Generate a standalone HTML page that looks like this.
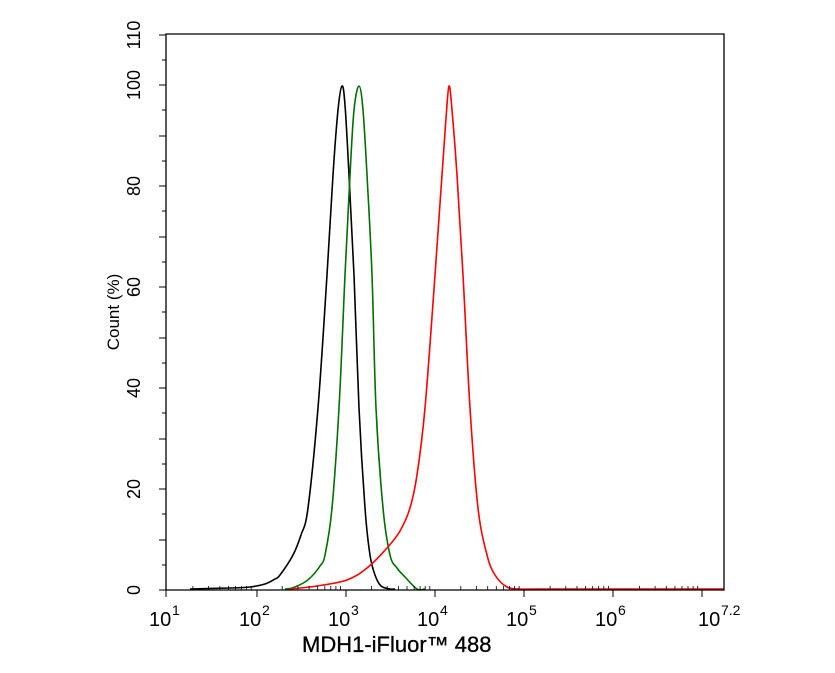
<!DOCTYPE html>
<html><head><meta charset="utf-8"><style>body{margin:0;background:#fff}</style></head><body>
<svg width="835" height="668" viewBox="0 0 835 668" xmlns="http://www.w3.org/2000/svg" font-family="Liberation Sans, Arial, sans-serif">
<rect width="835" height="668" fill="#fff"/>
<g fill="none" stroke-width="1.6" stroke-linejoin="round" id="curves"></g>
<g stroke="#000" stroke-width="1.3" fill="none">
<path d="M166,590 L166,34 L724,34 L724,590 Z"/>
</g>
<g stroke="#000" stroke-width="1">
<path d="M159,590H166M159,540H166M159,489H166M159,439H166M159,388H166M159,338H166M159,287H166M159,237H166M159,186H166M159,136H166M159,85H166M159,35H166"/>
<path d="M162,565H166M162,514H166M162,464H166M162,413H166M162,363H166M162,312H166M162,262H166M162,211H166M162,161H166M162,110H166M162,60H166"/>
<path d="M166,590V597M257,590V597M346,590V597M435,590V597M524,590V597M613,590V597M702,590V597"/>
</g>
<g stroke="#000" stroke-width="0.8" id="minor"></g>
<g font-size="18" fill="#000" text-anchor="middle">
<text transform="translate(134,590) rotate(-90)" dy="6">0</text>
<text transform="translate(134,489) rotate(-90)" dy="6">20</text>
<text transform="translate(134,388) rotate(-90)" dy="6">40</text>
<text transform="translate(134,287) rotate(-90)" dy="6">60</text>
<text transform="translate(134,186) rotate(-90)" dy="6">80</text>
<text transform="translate(134,85) rotate(-90)" dy="6">100</text>
<text transform="translate(134,35) rotate(-90)" dy="6">110</text>
<text transform="translate(113,312) rotate(-90)" dy="6" font-size="17">Count  (%)</text>
</g>
<g font-size="20" fill="#000">
<text x="149" y="626">10</text><text x="172" y="615" font-size="14">1</text>
<text x="239" y="626">10</text><text x="262" y="615" font-size="14">2</text>
<text x="328" y="626">10</text><text x="351" y="615" font-size="14">3</text>
<text x="417" y="626">10</text><text x="440" y="615" font-size="14">4</text>
<text x="506" y="626">10</text><text x="529" y="615" font-size="14">5</text>
<text x="595" y="626">10</text><text x="618" y="615" font-size="14">6</text>
<text x="698" y="626">10</text><text x="721" y="615" font-size="14">7.2</text>
<text x="302" y="652" font-size="22" stroke="#000" stroke-width="0.3">MDH1-iFluor™ 488</text>
</g>
</svg>
<script>
var NS='http://www.w3.org/2000/svg';
var g=document.getElementById('minor'),d='';
for(var k=0;k<7;k++){var b=166+k*89.3;for(var m=2;m<10;m++){var x=b+Math.log10(m)*89.3;if(x<724)d+='M'+x.toFixed(1)+',590V586';}}
var pp=document.createElementNS(NS,'path');pp.setAttribute('d',d);g.appendChild(pp);
function cr(P){var s='M'+P[0][0]+','+P[0][1];for(var i=0;i<P.length-1;i++){var p0=P[Math.max(i-1,0)],p1=P[i],p2=P[i+1],p3=P[Math.min(i+2,P.length-1)];
s+=' C'+(p1[0]+(p2[0]-p0[0])/6).toFixed(1)+','+(p1[1]+(p2[1]-p0[1])/6).toFixed(1)+' '+(p2[0]-(p3[0]-p1[0])/6).toFixed(1)+','+(p2[1]-(p3[1]-p1[1])/6).toFixed(1)+' '+p2[0]+','+p2[1];}return s;}
var C=document.getElementById('curves');
function add(col,P){var e=document.createElementNS(NS,'path');e.setAttribute('stroke',col);e.setAttribute('d',cr(P));C.appendChild(e);}
add('#000',[[190,589],[230,588],[250,587],[265,584],[275,579],[280,575],[293,555],[301,535],[308,508],[318,408],[327,275],[333,175],[338,110],[342,86],[345,105],[349,175],[354,275],[359,408],[365,508],[370,555],[375,575],[381,586],[390,589],[395,589]]);
add('#007000',[[285,589],[292,588],[305,582],[313,575],[320,566],[325,555],[332,508],[339,408],[345,275],[350,175],[354,110],[359,86],[363,110],[367,175],[372,275],[376,408],[383,508],[390,555],[397,568],[405,577],[417,589],[425,589]]);
add('#ff0000',[[290,589],[317,586],[347,580],[367,568],[387,548],[400,531],[410,508],[417,475],[425,408],[435,275],[442,175],[446,118],[449,86],[452,110],[457,175],[463,275],[470,408],[478,508],[487,555],[495,575],[507,587],[520,589],[540,589],[724,589]]);
</script>
</body></html>
